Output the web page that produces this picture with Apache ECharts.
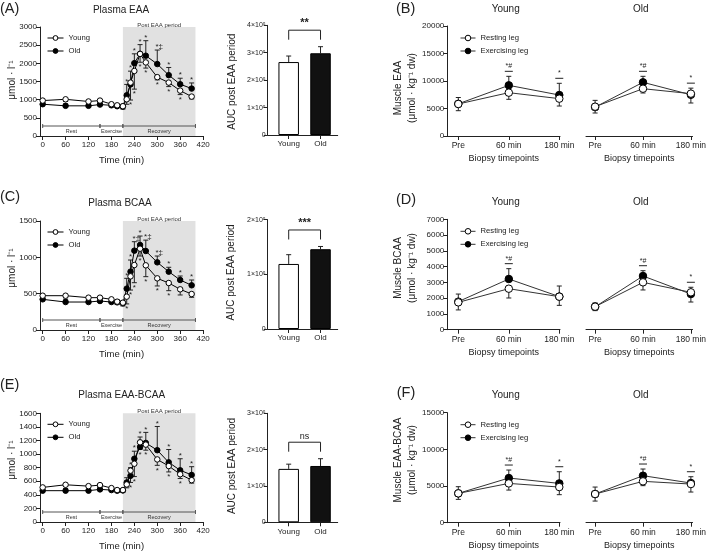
<!DOCTYPE html>
<html><head><meta charset="utf-8">
<script src="https://cdn.jsdelivr.net/npm/echarts@6/dist/echarts.min.js"></script>
<style>html,body{margin:0;padding:0;background:#fff}#c{width:709px;height:552px}</style>
</head><body><div id="c"></div>
<script>
// ================= DATA =================
// Plasma time course
const times = [0,60,120,150,180,195,210,220,230,240,255,270,300,330,360,390];
const timeTicks = [0,60,120,180,240,300,360,420];
const phaseNames = ['Rest','Exercise','Recovery'];
const phaseStart = [0,150,210];
const phaseEnd = [150,210,400];
const postPeriod = [210,400];

// Plasma EAA (µmol/l), mean and SD
const eaaYoung   = [975,1010,950,975,875,845,820,1010,1470,1790,2260,2025,1620,1470,1250,1085];
const eaaYoungSD = [60,60,50,50,70,60,80,137,480,500,230,156,75,110,110,63];
const eaaOld     = [875,830,830,865,845,820,810,1120,1420,2005,2260,2210,1980,1675,1425,1305];
const eaaOldSD   = [50,50,50,50,60,50,60,300,365,257,255,413,386,211,165,155];
const eaaYoungSig = ['','','','','','','','','*','*','*','*','*','*','*',''];
const eaaOldSig   = ['','','','','','','','*','*','*','*','*','*‡','*','*','*'];

// Plasma BCAA
const bcaaYoung   = [472,472,445,445,422,390,376,459,738,894,1119,890,711,647,560,495];
const bcaaYoungSD = [30,30,25,25,40,40,45,100,188,243,101,156,105,106,78,45];
const bcaaOld     = [422,385,385,399,385,381,367,569,803,1092,1170,1087,931,803,688,615];
const bcaaOldSD   = [30,30,30,40,40,35,35,142,160,123,123,150,87,60,55,73];
const bcaaYoungSig = ['','','','','','','','*','*','*','*','*','*','*','',''];
const bcaaOldSig   = ['','','','','','','','*','*','*‡','*','*‡','*‡','*','*','*'];

// Plasma EAA-BCAA
const ebYoung   = [509,548,528,543,499,470,470,553,756,858,1173,1139,921,824,703,616];
const ebYoungSD = [25,25,20,20,30,30,30,50,174,189,106,82,87,87,63,44];
const ebOld     = [461,461,461,480,470,461,465,582,679,931,1105,1164,1057,878,761,693];
const ebOldSD   = [25,30,25,30,30,25,25,70,121,111,146,155,349,189,170,121];
const ebYoungSig = ['','','','','','','','','*','*','*','*','*','*','*',''];
const ebOldSig   = ['','','','','','','','','*','*','*','*','*','*','*','*'];

// AUC post EAA period
const aucCats = ['Young','Old'];
const aucEAA = [266000,298000];   const aucEAASD = [22000,24000];
const aucBCAA = [119000,146000];  const aucBCAASD = [17000,5000];
const aucEB = [147000,155000];    const aucEBSD = [13000,20000];
const aucSig = ['**','***','ns'];

// Muscle (µmol/kg dw); error sign: + drawn up, - drawn down
const bioCats = ['Pre','60 min','180 min'];
const mEAA_yRest = [5820,7880,6790], mEAA_yRestErr = [-1220,-1210,-1340];
const mEAA_yEx   = [5850,9210,7450], mEAA_yExErr   = [1150,1640,2130];
const mEAA_oRest = [5330,8600,7700], mEAA_oRestErr = [-1150,-780,-1700];
const mEAA_oEx   = [5250,9760,7500], mEAA_oExErr   = [1230,1090,1200];
const mEAA_ySig = ['','*#','*'], mEAA_oSig = ['','*#','*'];

const mBCAA_yRest = [1734,2600,2094], mBCAA_yRestErr = [-480,-590,-550];
const mBCAA_yEx   = [1780,3215,2100], mBCAA_yExErr   = [480,655,670];
const mBCAA_oRest = [1460,3003,2370], mBCAA_oRestErr = [-250,-483,320];
const mBCAA_oEx   = [1450,3405,2260], mBCAA_oExErr   = [250,335,-505];
const mBCAA_ySig = ['','*#',''], mBCAA_oSig = ['','*#','*'];

const mEB_yRest = [4000,5360,4860], mEB_yRestErr = [-820,-910,-1040];
const mEB_yEx   = [4000,6090,5360], mEB_yExErr   = [910,1090,1590];
const mEB_oRest = [3910,5640,5270], mEB_oRestErr = [-960,-590,-1090];
const mEB_oEx   = [3910,6410,5410], mEB_oExErr   = [950,910,860];
const mEB_ySig = ['','*#','*'], mEB_oSig = ['','*#','*'];

// ================= CHART =================
const FONT = 'Liberation Sans, Arial, Helvetica, sans-serif';
const INK = '#222';
const grids=[], xAxes=[], yAxes=[], series=[], legends=[], graphics=[];
const plain = v => String(v);

function lineStyleAxis(){ return {show:true, onZero:false, lineStyle:{color:INK, width:1}}; }

function errRenderer(labels){
  return function(params, api){
    const x=api.value(0), y=api.value(1), e=api.value(2);
    const kids=[];
    const p0=api.coord([x,y]), p1=api.coord([x,y+e]);
    if(e){
      kids.push({type:'line', shape:{x1:p0[0],y1:p0[1],x2:p1[0],y2:p1[1]}, style:{stroke:INK,lineWidth:1}});
      kids.push({type:'line', shape:{x1:p1[0]-2.5,y1:p1[1],x2:p1[0]+2.5,y2:p1[1]}, style:{stroke:INK,lineWidth:1}});
    }
    const lab = labels ? labels[params.dataIndex] : '';
    if(lab){
      const up = e>=0;
      kids.push({type:'text', x:p1[0]+(lab.length>1?2:0), y: p1[1]+1,
        style:{text:lab, fill:INK, fontSize:8, fontFamily:FONT, align:'center', textAlign:'center',
          verticalAlign: up?'bottom':'top', textVerticalAlign: up?'bottom':'top'}});
    }
    return {type:'group', children:kids};
  };
}

function tsPanel(o){
  const g = grids.length;
  grids.push({left:40, top:o.top, width:163.1, height:o.height});
  xAxes.push({gridIndex:g, type:'value', min:-7, max:420,
    axisLine:lineStyleAxis(),
    axisTick:{show:true, length:4, customValues:timeTicks, lineStyle:{color:INK}},
    axisLabel:{customValues:timeTicks, fontSize:8, color:INK, margin:5, fontFamily:FONT, formatter:plain},
    splitLine:{show:false},
    name:'Time (min)', nameLocation:'middle', nameGap:19,
    nameTextStyle:{fontSize:9.5, color:INK, fontFamily:FONT}});
  yAxes.push({gridIndex:g, type:'value', min:0, max:o.yMax, interval:o.yInt,
    axisLine:lineStyleAxis(), axisTick:{show:true, length:4, lineStyle:{color:INK}},
    axisLabel:{fontSize:8, color:INK, margin:3, fontFamily:FONT, formatter:plain}, splitLine:{show:false}});
  const xi=xAxes.length-1, yi=yAxes.length-1;
  // phase bar
  series.push({type:'custom', xAxisIndex:xi, yAxisIndex:yi, silent:true, z:3,
    data: phaseStart.map((s,i)=>[s, phaseEnd[i]]),
    renderItem:function(params, api){
      const cs=params.coordSys;
      const y = cs.y + cs.height - 10;
      const xa = api.coord([api.value(0),0])[0], xb = api.coord([api.value(1),0])[0];
      return {type:'group', children:[
        {type:'line', shape:{x1:xa,y1:y,x2:xb,y2:y}, style:{stroke:'#555',lineWidth:1}},
        {type:'line', shape:{x1:xa,y1:y-2,x2:xa,y2:y+2}, style:{stroke:'#555',lineWidth:1}},
        {type:'line', shape:{x1:xb,y1:y-2,x2:xb,y2:y+2}, style:{stroke:'#555',lineWidth:1}},
        {type:'text', x:(xa+xb)/2, y:y+2.5, style:{text:phaseNames[params.dataIndex], fill:'#333', fontSize:5.5, fontFamily:FONT,
          align:'center', textAlign:'center', verticalAlign:'top', textVerticalAlign:'top'}}
      ]};
    }});
  series.push({type:'custom', name:'errY'+g, xAxisIndex:xi, yAxisIndex:yi, z:3,
    data: times.map((t,i)=>[t, o.young[i], -o.youngSD[i]]), renderItem: errRenderer(o.youngSig)});
  series.push({type:'custom', name:'errO'+g, xAxisIndex:xi, yAxisIndex:yi, z:3,
    data: times.map((t,i)=>[t, o.old[i], o.oldSD[i]]), renderItem: errRenderer(o.oldSig)});
  series.push({type:'line', name:'Young', xAxisIndex:xi, yAxisIndex:yi, z:5,
    data: times.map((t,i)=>[t, o.young[i]]), symbol:'circle', symbolSize:5.5,
    lineStyle:{color:'#000', width:1}, itemStyle:{color:'#fff', borderColor:'#000', borderWidth:1},
    markArea:{silent:true, itemStyle:{color:'#e1e1e1'},
      label:{show:true, position:'top', distance:-1, fontSize:6, color:'#333', fontFamily:FONT},
      data:[[{name:'Post EAA period', xAxis:postPeriod[0]},{xAxis:postPeriod[1]}]]}});
  series.push({type:'line', name:'Old', xAxisIndex:xi, yAxisIndex:yi, z:4,
    data: times.map((t,i)=>[t, o.old[i]]), symbol:'circle', symbolSize:5.5,
    lineStyle:{color:'#000', width:1}, itemStyle:{color:'#000', borderColor:'#000'}});
  legends.push({data:['Young','Old'], orient:'vertical', left:42, top:o.top+2, itemWidth:16, itemHeight:6, itemGap:5,
    itemStyle:{borderWidth:1}, lineStyle:{width:1},
    textStyle:{fontSize:7.7, color:INK, fontFamily:FONT}, selectedMode:false});
}

function barPanel(o){
  const g = grids.length;
  grids.push({left:267.7, top:o.top, width:70, height:o.height});
  xAxes.push({gridIndex:g, type:'value', min:-0.66, max:1.54,
    axisLine:lineStyleAxis(),
    axisTick:{show:true, length:4, customValues:[0,1], lineStyle:{color:INK}},
    axisLabel:{customValues:[0,1], formatter:v=>aucCats[v], fontSize:8, color:INK, margin:5, fontFamily:FONT},
    splitLine:{show:false}});
  yAxes.push({gridIndex:g, type:'value', min:0, max:o.yMax, interval:100000,
    axisLine:lineStyleAxis(), axisTick:{show:true, length:4, lineStyle:{color:INK}},
    axisLabel:{fontSize:7, color:INK, margin:2, fontFamily:FONT, formatter:v=> v===0?'0':(v/100000)+'×10⁵'},
    splitLine:{show:false}});
  const xi=xAxes.length-1, yi=yAxes.length-1;
  series.push({type:'custom', xAxisIndex:xi, yAxisIndex:yi, z:1,
    data: o.vals.map((v,i)=>[i, v, o.sd[i]]), renderItem: errRenderer(null)});
  series.push({type:'bar', xAxisIndex:xi, yAxisIndex:yi, barWidth:20.5, z:3,
    data: o.vals.map((v,i)=>({value:[i,v], itemStyle: i===0 ? {color:'#fff', borderColor:'#000', borderWidth:1} : {color:'#111', borderColor:'#000', borderWidth:1}}))});
  // significance bracket from the top of the error bars
  const top = Math.max(...o.vals.map((v,i)=>v+o.sd[i]));
  series.push({type:'custom', xAxisIndex:xi, yAxisIndex:yi, z:3, silent:true,
    data:[[0,1,top]],
    renderItem:function(params, api){
      const pa=api.coord([api.value(0), api.value(2)]), pb=api.coord([api.value(1), api.value(2)]);
      const yb = pa[1]-7, yl = yb-9.5;
      return {type:'group', children:[
        {type:'polyline', shape:{points:[[pa[0],yb],[pa[0],yl],[pb[0],yl],[pb[0],yb]]}, style:{stroke:INK, fill:null, lineWidth:1}},
        {type:'text', x:(pa[0]+pb[0])/2, y:yl-1.5, style:{text:o.sig, fill:INK, fontSize: o.sig==='ns'?9:11, fontFamily:FONT,
          fontWeight: o.sig==='ns'?'normal':'bold',
          align:'center', textAlign:'center', verticalAlign:'bottom', textVerticalAlign:'bottom'}}
      ]};
    }});
}

function muscleSub(o){
  const g = grids.length;
  grids.push({left:o.left, top:o.top, width:o.width, height:o.height});
  xAxes.push({gridIndex:g, type:'value', min:o.xmin, max:o.xmax,
    axisLine:lineStyleAxis(),
    axisTick:{show:true, length:4, customValues:[0,1,2], lineStyle:{color:INK}},
    axisLabel:{customValues:[0,1,2], formatter:v=>bioCats[v], fontSize:8.5, color:INK, margin:5, fontFamily:FONT},
    splitLine:{show:false},
    name:'Biopsy timepoints', nameLocation:'middle', nameGap:18.5,
    nameTextStyle:{fontSize:9, color:INK, fontFamily:FONT}});
  yAxes.push({gridIndex:g, type:'value', min:0, max:o.yMax, interval:o.yInt, show:o.showY,
    axisLine:lineStyleAxis(), axisTick:{show:true, length:4, lineStyle:{color:INK}},
    axisLabel:{fontSize:8, color:INK, margin:3, fontFamily:FONT, formatter:plain}, splitLine:{show:false}});
  const xi=xAxes.length-1, yi=yAxes.length-1;
  const idx=[0,1,2];
  series.push({type:'custom', xAxisIndex:xi, yAxisIndex:yi, z:2,
    data: idx.map(i=>[i, o.ex[i], o.exErr[i]]), renderItem: errRenderer(null)});
  series.push({type:'custom', xAxisIndex:xi, yAxisIndex:yi, z:2,
    data: idx.map(i=>[i, o.rest[i], o.restErr[i]]), renderItem: errRenderer(null)});
  series.push({type:'line', name:'Exercising leg', xAxisIndex:xi, yAxisIndex:yi, z:4,
    data: idx.map(i=>[i, o.ex[i]]), symbol:'circle', symbolSize:7.5,
    lineStyle:{color:'#333', width:1}, itemStyle:{color:'#000', borderColor:'#000'}});
  series.push({type:'line', name:'Resting leg', xAxisIndex:xi, yAxisIndex:yi, z:5,
    data: idx.map(i=>[i, o.rest[i]]), symbol:'circle', symbolSize:7.5,
    lineStyle:{color:'#333', width:1}, itemStyle:{color:'#fff', borderColor:'#000', borderWidth:1}});
  // significance marks above highest error end
  series.push({type:'custom', xAxisIndex:xi, yAxisIndex:yi, z:3, silent:true,
    data: idx.map(i=>[i, Math.max(o.ex[i]+Math.max(o.exErr[i],0), o.rest[i]+Math.max(o.restErr[i],0))]),
    renderItem:function(params, api){
      const lab = o.sig[params.dataIndex];
      if(!lab) return null;
      const p=api.coord([api.value(0), api.value(1)]);
      const y=p[1]-5;
      return {type:'group', children:[
        {type:'line', shape:{x1:p[0]-4,y1:y,x2:p[0]+4,y2:y}, style:{stroke:INK,lineWidth:1}},
        {type:'text', x:p[0], y:y-1.5, style:{text:lab, fill:INK, fontSize:7, fontFamily:FONT,
          align:'center', textAlign:'center', verticalAlign:'bottom', textVerticalAlign:'bottom'}}
      ]};
    }});
  if(o.showY){
    legends.push({data:['Resting leg','Exercising leg'], orient:'vertical', left:455, top:o.top+3, itemWidth:15, itemHeight:7, itemGap:5,
      itemStyle:{borderWidth:1}, lineStyle:{width:1},
      textStyle:{fontSize:7.7, color:INK, fontFamily:FONT}, selectedMode:false});
  }
}

function musclePanel(top, height, yMax, yInt, d){
  muscleSub({left:447.3, width:112.7, xmin:-0.218, xmax:2.014, top, height, yMax, yInt, showY:true,
    rest:d.yRest, restErr:d.yRestErr, ex:d.yEx, exErr:d.yExErr, sig:d.ySig});
  muscleSub({left:586, width:109, xmin:-0.19, xmax:2.035, top, height, yMax, yInt, showY:false,
    rest:d.oRest, restErr:d.oRestErr, ex:d.oEx, exErr:d.oExErr, sig:d.oSig});
}

// Row 1
tsPanel({top:27, height:109, yMax:3000, yInt:500, young:eaaYoung, youngSD:eaaYoungSD, old:eaaOld, oldSD:eaaOldSD, youngSig:eaaYoungSig, oldSig:eaaOldSig});
barPanel({top:25.3, height:109.7, yMax:400000, vals:aucEAA, sd:aucEAASD, sig:aucSig[0]});
musclePanel(26, 110, 20000, 5000, {yRest:mEAA_yRest,yRestErr:mEAA_yRestErr,yEx:mEAA_yEx,yExErr:mEAA_yExErr,ySig:mEAA_ySig,
  oRest:mEAA_oRest,oRestErr:mEAA_oRestErr,oEx:mEAA_oEx,oExErr:mEAA_oExErr,oSig:mEAA_oSig});
// Row 2
tsPanel({top:221, height:109, yMax:1500, yInt:500, young:bcaaYoung, youngSD:bcaaYoungSD, old:bcaaOld, oldSD:bcaaOldSD, youngSig:bcaaYoungSig, oldSig:bcaaOldSig});
barPanel({top:219.7, height:109.3, yMax:200000, vals:aucBCAA, sd:aucBCAASD, sig:aucSig[1]});
musclePanel(219.3, 110.4, 7000, 1000, {yRest:mBCAA_yRest,yRestErr:mBCAA_yRestErr,yEx:mBCAA_yEx,yExErr:mBCAA_yExErr,ySig:mBCAA_ySig,
  oRest:mBCAA_oRest,oRestErr:mBCAA_oRestErr,oEx:mBCAA_oEx,oExErr:mBCAA_oExErr,oSig:mBCAA_oSig});
// Row 3
tsPanel({top:413.3, height:110, yMax:1600, yInt:200, young:ebYoung, youngSD:ebYoungSD, old:ebOld, oldSD:ebOldSD, youngSig:ebYoungSig, oldSig:ebOldSig});
barPanel({top:413.3, height:109, yMax:300000, vals:aucEB, sd:aucEBSD, sig:aucSig[2]});
musclePanel(412.7, 110, 15000, 5000, {yRest:mEB_yRest,yRestErr:mEB_yRestErr,yEx:mEB_yEx,yExErr:mEB_yExErr,ySig:mEB_ySig,
  oRest:mEB_oRest,oRestErr:mEB_oRestErr,oEx:mEB_oEx,oExErr:mEB_oExErr,oSig:mEB_oSig});

// Texts
function txt(text, x, y, size, align, rot){
  graphics.push({type:'text', x, y, rotation: rot||0, silent:true,
    style:{text, fill:INK, fontSize:size, fontFamily:FONT, lineHeight:size*1.4,
      align:align||'center', textAlign:align||'center', verticalAlign:'middle', textVerticalAlign:'middle'}});
}
const R = Math.PI/2;
txt('(A)', 0, 8.5, 14.5, 'left'); txt('Plasma EAA', 121, 10, 10);
txt('(B)', 396, 8.5, 14.5, 'left'); txt('Young', 505.7, 9.5, 10); txt('Old', 640.7, 9.5, 10);
txt('(C)', 0, 197, 14.5, 'left'); txt('Plasma BCAA', 120, 203, 10);
txt('(D)', 396, 200, 14.5, 'left'); txt('Young', 505.7, 202.7, 10); txt('Old', 640.7, 202.7, 10);
txt('(E)', 0, 385, 14.5, 'left'); txt('Plasma EAA-BCAA', 121.7, 395, 10);
txt('(F)', 396.7, 393, 14.5, 'left'); txt('Young', 505.7, 395, 10); txt('Old', 640.7, 395, 10);

txt('μmol · l⁻¹', 12, 80, 10, 'center', R);
txt('μmol · l⁻¹', 12, 268, 10, 'center', R);
txt('μmol · l⁻¹', 12, 460, 10, 'center', R);
txt('AUC post EAA period', 232, 81.7, 10, 'center', R);
txt('AUC post EAA period', 231.7, 272.5, 10, 'center', R);
txt('AUC post EAA period', 232, 466, 10, 'center', R);
txt('Muscle EAA\n(μmol · kg⁻¹ dw)', 405, 88, 10, 'center', R);
txt('Muscle BCAA\n(μmol · kg⁻¹ dw)', 405, 268, 10, 'center', R);
txt('Muscle EAA-BCAA\n(μmol · kg⁻¹ dw)', 405, 460, 10, 'center', R);

const chart = echarts.init(document.getElementById('c'), null, {renderer:'canvas'});
chart.setOption({
  animation:false, backgroundColor:'#fff',
  textStyle:{fontFamily:FONT},
  grid:grids, xAxis:xAxes, yAxis:yAxes, series, legend:legends, graphic:graphics
});
</script></body></html>
